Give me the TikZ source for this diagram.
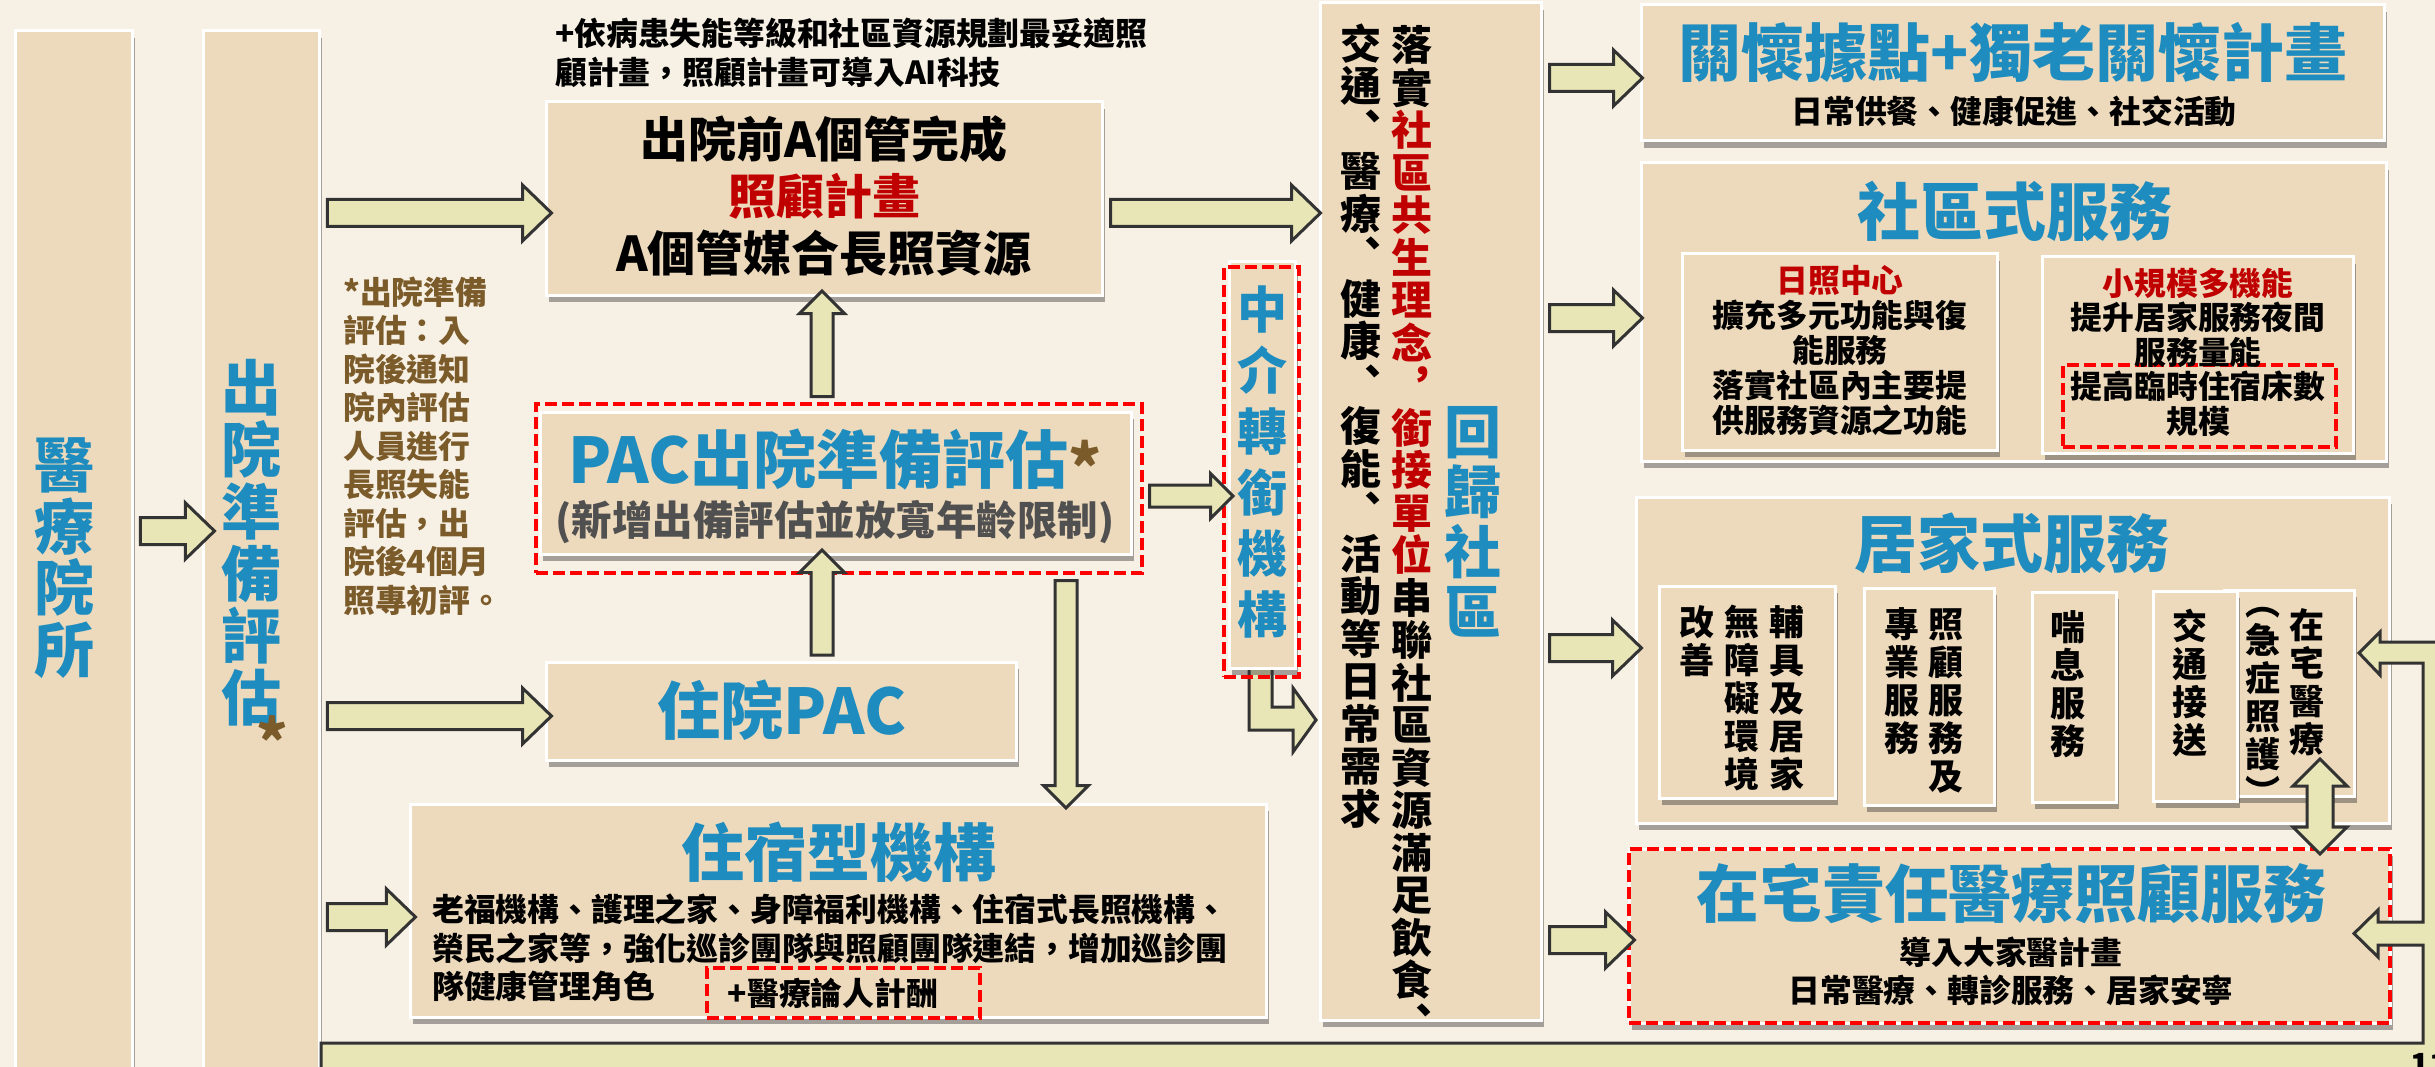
\documentclass[tikz,border=0pt]{standalone}
\usepackage{fontspec}
\setmainfont{Noto Sans CJK TC}
\usetikzlibrary{calc,positioning,shapes.arrows,shadows}

\definecolor{bgcream}{HTML}{F7F0E4}
\definecolor{boxtan}{HTML}{EDDABC}
\definecolor{headblue}{HTML}{1E8CBE}
\definecolor{keyred}{HTML}{C00000}
\definecolor{dashred}{HTML}{FF0000}
\definecolor{arrowfill}{HTML}{E8E6B7}
\definecolor{arrowline}{HTML}{333333}
\definecolor{notebrown}{HTML}{7B5B2A}
\definecolor{subgray}{HTML}{505050}

\newcommand\fsz[2]{\fontsize{#1}{#2}\selectfont\bfseries}
% characters stacked in one column
\def\vstop{\vstop}
\newcommand\vchars[1]{\vcharsloop#1\vstop}
\def\vcharsloop#1{\ifx#1\vstop\else
  \hbox to 1.05em{\hss\vrule height .88em depth .12em width 0pt\relax#1\hss}%
  \expandafter\vcharsloop\fi}
\newcommand\vcol[1]{\vbox{\lineskiplimit=-\maxdimen #1}}
% block arrow from one point to another
\newcommand\barrow[3][bigarrow]{%
  \path let \p1=#2, \p2=#3, \n1={veclen(\x2-\x1,\y2-\y1)},
    \n2={atan2(\y2-\y1,\x2-\x1)} in
    node[#1, minimum height=\n1, rotate=\n2] at ($(\p1)!.5!(\p2)$) {};}

\begin{document}
\begin{tikzpicture}[x=1pt,y=-1pt,
  box/.style={draw=white, line width=3pt, fill=boxtan, inner sep=0pt,
    drop shadow={shadow xshift=3pt, shadow yshift=-7pt, opacity=.42, fill=black!80}},
  dashbox/.style={draw=dashred, line width=4pt, dash pattern=on 12pt off 5pt, inner sep=0pt},
  arrowbody/.style={draw=arrowline, fill=arrowfill, line width=3pt, line join=miter},
  bigarrow/.style={single arrow, arrowbody, inner sep=0pt, text height=24pt, text depth=0pt,
    single arrow head extend=14.5pt, single arrow tip angle=88},
  smallarrow/.style={bigarrow, text height=19pt, single arrow head extend=11.5pt,
    single arrow tip angle=90},
  dblarrow/.style={double arrow, arrowbody, inner sep=0pt, text height=23pt, text depth=0pt,
    double arrow head extend=14pt, double arrow tip angle=90},
  bigtitle/.style={font=\fsz{63}{66}, text=headblue, inner sep=0pt},
  bodytext/.style={font=\fsz{31.8}{38.5}, inner sep=0pt},
  vtext/.style={font=\fsz{35}{38}, inner sep=0pt, anchor=north},
]
\useasboundingbox (0,0) rectangle (2435,1067);
\fill[bgcream] (0,0) rectangle (2435,1067);

% levels of the arrows
\coordinate (yhosp) at (0,531);
\coordinate (yplan) at (0,213);
\coordinate (yinpac) at (0,716);
\coordinate (yres) at (0,917);
\coordinate (ymid) at (0,496);
\coordinate (xup) at (822,0);
\coordinate (xdown) at (1066,0);
\coordinate (ycare) at (0,78);
\coordinate (ycomm) at (0,318);
\coordinate (yhome) at (0,648);
\coordinate (yresp) at (0,940);

% elbow from the transfer unit
\draw[arrowbody] (1249,660) -- (1249,730) -- (1293,730) -- (1293,752) -- (1316,720)
  -- (1293,688) -- (1293,707) -- (1272,707) -- (1272,660) -- cycle;

% boxes
\node[box, minimum width=117, minimum height=1059] (hosp) at (73.5,560.5) {};
\node[box, minimum width=116, minimum height=1059] (dis) at (261,560.5) {};
\node[box, minimum width=556, minimum height=193] (plan) at (824,198.5) {};
\node[box, minimum width=591, minimum height=142] (pac) at (835.5,483) {};
\node[dashbox, minimum width=606, minimum height=169] (pacdash) at (839,488.5) {};
\node[box, minimum width=470, minimum height=98] (inpac) at (781,711) {};
\node[box, minimum width=856, minimum height=213] (res) at (838,910.5) {};
\node[dashbox, minimum width=273, minimum height=50] (paydash) at (843.5,993) {};
\node[box, minimum width=66, minimum height=406] (mid) at (1262,465) {};
\node[dashbox, minimum width=75, minimum height=410] (middash) at (1261.5,472) {};
\node[box, minimum width=221, minimum height=1017] (back) at (1430.5,511.5) {};
\node[box, minimum width=743, minimum height=136] (care) at (2012.5,73) {};
\node[box, minimum width=745, minimum height=298] (comm) at (2013.5,312) {};
\node[box, minimum width=315, minimum height=196] (dc) at (1839.5,352) {};
\node[box, minimum width=311, minimum height=196] (sm) at (2197.5,355) {};
\node[dashbox, minimum width=273, minimum height=82] (smdash) at (2199.5,406) {};
\node[box, minimum width=753, minimum height=326] (home) at (2012.5,660) {};
\node[box, minimum width=176, minimum height=212] (ha) at (1747,692) {};
\node[box, minimum width=130, minimum height=217] (hb) at (1929,696.5) {};
\node[box, minimum width=84, minimum height=210] (hc) at (2074,697) {};
\node[box, minimum width=130, minimum height=206] (he) at (2289,693) {};
\node[box, minimum width=84, minimum height=210] (hd) at (2195,696) {};
\node[box, minimum width=761, minimum height=174] (resp) at (2009.5,936) {};
\node[dashbox, minimum width=761, minimum height=174] (respdash) at (2009.5,936) {};

% texts
\node[font=\fsz{60}{61.5}, text=headblue, inner sep=0pt] (hosptext) at (64,557) {\vcol{\vchars{醫療院所}}};
\node[font=\fsz{60}{62}, text=headblue, inner sep=0pt] (distext) at (251,543) {\vcol{\vchars{出院準備評估}}};
\node[font=\fsz{60}{62}, text=notebrown, inner sep=0pt] (disstar) at (272,740) {*};
\node[bodytext, font=\fsz{31.8}{39}, anchor=west, align=left] (topnote) at (555,52.5)
  {+依病患失能等級和社區資源規劃最妥適照\\顧計畫，照顧計畫可導入AI科技};
\node[bodytext, text=notebrown, anchor=west, align=left] (disnote) at (343,446)
  {*出院準備\\評估：入\\院後通知\\院內評估\\人員進行\\長照失能\\評估，出\\院後4個月\\照專初評。};
\node[font=\fsz{48}{57}, align=center, inner sep=0pt] (plantext) at (824,196)
  {出院前A個管完成\\{\color{keyred}照顧計畫}\\A個管媒合長照資源};
\node[bigtitle] (pactitle) at (835,460) {PAC出院準備評估\raisebox{-8pt}{\color{notebrown}*}};
\node[font=\fsz{40.5}{42}, text=subgray, inner sep=0pt] (pacsub) at (835,522) {(新增出備評估並放寬年齡限制)};
\node[bigtitle] (inpactext) at (782,710) {住院PAC};
\node[bigtitle] (restitle) at (839,852) {住宿型機構};
\node[bodytext, anchor=west, align=left] (resbody) at (432,948)
  {老福機構、護理之家、身障福利機構、住宿式長照機構、\\榮民之家等，強化巡診團隊與照顧團隊連結，增加巡診團\\隊健康管理角色};
\node[bodytext] (paytext) at (833,993) {+醫療論人計酬};
\node[font=\fsz{50}{61}, text=headblue, inner sep=0pt] (midtext) at (1262,462) {\vcol{\vchars{中介轉銜機構}}};
\node[font=\fsz{41}{42.5}, inner sep=0pt] (backa) at (1361,426)
  {\vcol{\vchars{交通︑醫療︑健康︑復能︑活動等日常需求}}};
\node[font=\fsz{41}{42.5}, inner sep=0pt] (backb) at (1412,534)
  {\vcol{\vchars{落實}\color{keyred}\vchars{社區共生理念︐銜接單位}\color{black}\vchars{串聯社區資源滿足飲食︑}}};
\node[font=\fsz{57}{60}, text=headblue, inner sep=0pt] (backc) at (1473,522) {\vcol{\vchars{回歸社區}}};
\node[bigtitle] (caretitle) at (2013,52) {關懷據點+獨老關懷計畫};
\node[bodytext] (caresub) at (2014,111) {日常供餐、健康促進、社交活動};
\node[bigtitle] (commtitle) at (2015,211) {社區式服務};
\node[bodytext, font=\fsz{31.8}{35}, align=center] (dctext) at (1840,350)
  {{\color{keyred}日照中心}\\擴充多元功能與復\\能服務\\落實社區內主要提\\供服務資源之功能};
\node[bodytext, font=\fsz{31.8}{34.5}, align=center] (smtext) at (2198,352)
  {{\color{keyred}小規模多機能}\\提升居家服務夜間\\服務量能\\提高臨時住宿床數\\規模};
\node[bigtitle] (hometitle) at (2012,543) {居家式服務};
\node[vtext] (haa) at (1787,604.5) {\vcol{\vchars{輔具及居家}}};
\node[vtext] (hab) at (1742,604.5) {\vcol{\vchars{無障礙環境}}};
\node[vtext] (hac) at (1697,604.5) {\vcol{\vchars{改善}}};
\node[vtext] (hba) at (1946,606.5) {\vcol{\vchars{照顧服務及}}};
\node[vtext] (hbb) at (1902,606.5) {\vcol{\vchars{專業服務}}};
\node[vtext] (hca) at (2068,609.5) {\vcol{\vchars{喘息服務}}};
\node[vtext] (hda) at (2190,608.5) {\vcol{\vchars{交通接送}}};
\node[vtext] (hea) at (2307,607.5) {\vcol{\vchars{在宅醫療}}};
\node[vtext] (heb) at (2263,584.5) {\vcol{\vchars{︵急症照護︶}}};
\node[bigtitle] (resptitle) at (2011,894) {在宅責任醫療照顧服務};
\node[bodytext, font=\fsz{31.8}{38}, align=center] (resptext) at (2011,971)
  {導入大家醫計畫\\日常醫療、轉診服務、居家安寧};

% arrows
\barrow{(hosp.east |- yhosp)}{($(dis.west |- yhosp)+(6,0)$)}
\barrow{(dis.east |- yplan)}{(plan.west |- yplan)}
\barrow{(dis.east |- yinpac)}{(inpac.west |- yinpac)}
\barrow{(dis.east |- yres)}{(res.west |- yres)}
\barrow{(plan.east |- yplan)}{($(back.west |- yplan)+(-5,0)$)}
\barrow[smallarrow]{(xup |- pacdash.north)}{(xup |- plan.south)}
\barrow[smallarrow]{(xup |- inpac.north)}{(xup |- pac.south)}
\barrow[smallarrow]{(xdown |- pacdash.south)}{(xdown |- res.north)}
\barrow[smallarrow]{(pacdash.east |- ymid)}{(mid.west |- ymid)}
\barrow{(back.east |- ycare)}{($(care.west |- ycare)+(-4,0)$)}
\barrow{(back.east |- ycomm)}{($(comm.west |- ycomm)+(-4,0)$)}
\barrow{(back.east |- yhome)}{(home.west |- yhome)}
\barrow{(back.east |- yresp)}{(resp.west |- yresp)}
\node[dblarrow, minimum height=95, rotate=90] (hedbl) at (2320,806.5) {};

% strip along the bottom, rising on the right
\draw[arrowbody] (2445,642) -- (2380,642) -- (2380,632) -- (2359,653) -- (2380,675)
  -- (2380,663) -- (2423,663) -- (2423,922) -- (2378,922) -- (2378,910) -- (2354,933.5)
  -- (2378,957) -- (2378,945) -- (2423,945) -- (2423,1043) -- (321,1043) -- (321,1080)
  -- (2445,1080) -- cycle;
\node[font=\fsz{31.8}{32}, anchor=north west, inner sep=0pt] (pageno) at (2410,1053) {11};
\end{tikzpicture}
\end{document}
